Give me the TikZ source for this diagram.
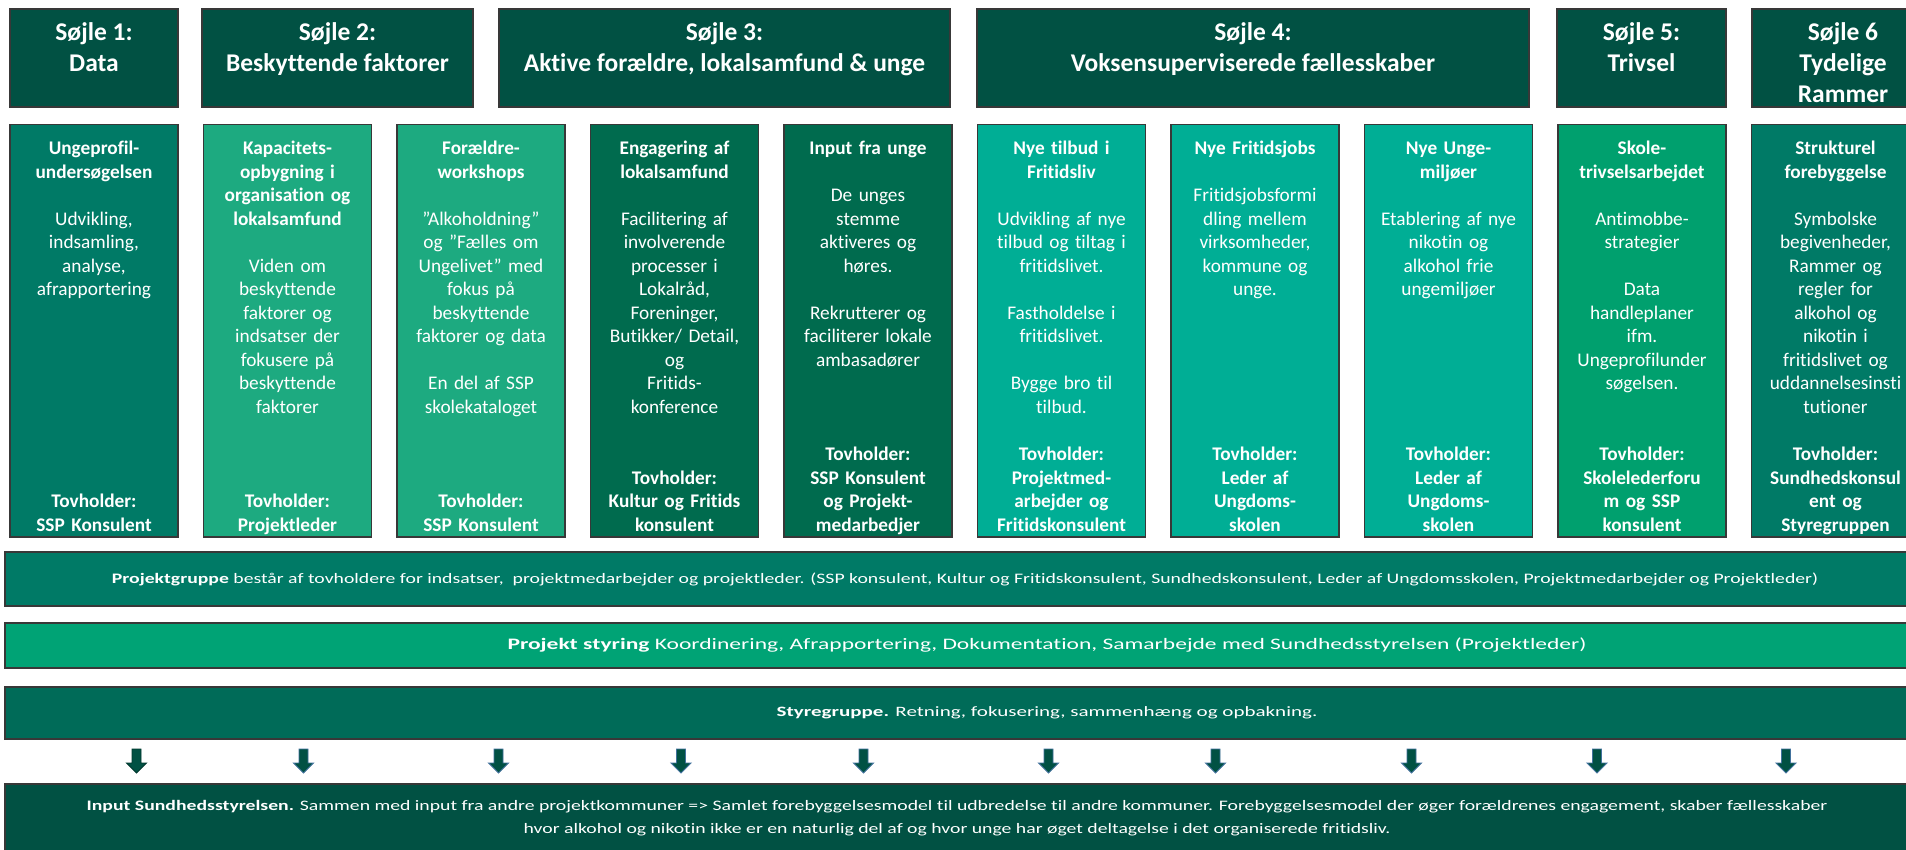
\documentclass[tikz,border=0pt]{standalone}
\usepackage{fontspec}
\setmainfont{Carlito}[Ligatures=CommonOff]
\newfontfamily\bandfont{Carlito}[FakeStretch=1.36, Ligatures=CommonOff]
\newfontfamily\widebandfont{Carlito}[FakeStretch=1.47, Ligatures=CommonOff]
\usetikzlibrary{positioning}

\definecolor{hdrgreen}{RGB}{1,81,67}
\definecolor{midgreen}{RGB}{0,122,102}
\definecolor{lightgreen}{RGB}{29,170,128}
\definecolor{darkgreen}{RGB}{0,107,78}
\definecolor{tealgreen}{RGB}{0,174,149}
\definecolor{schoolgreen}{RGB}{0,160,110}
\definecolor{bandgreen}{RGB}{0,163,117}
\definecolor{steergreen}{RGB}{0,107,88}
\definecolor{arrowline}{RGB}{65,113,156}

\begin{document}
\begin{tikzpicture}[x=1pt, y=-1pt,
boxframe/.style={draw=black!78, line width=1.3pt, inner sep=0pt, outer sep=0pt},
header/.style={boxframe, fill=hdrgreen, minimum height=98pt},
pillar/.style={boxframe, minimum width=168pt, minimum height=412.5pt},
band/.style={boxframe, minimum width=1920pt},
bandtext/.style={text=white, align=center, inner sep=0pt, font=\bandfont\fontsize{14.5}{22.5}\selectfont},
widebandtext/.style={bandtext, font=\widebandfont\fontsize{16}{20}\selectfont},
headtext/.style={text=white, font=\bfseries\fontsize{25.5}{31}\selectfont, align=center, inner sep=0pt},
pillartext/.style={text=white, font=\fontsize{19.3}{23.5}\selectfont, text width=166pt, align=center, inner sep=0pt},
tovtext/.style={pillartext, font=\bfseries\fontsize{19.3}{23.5}\selectfont},
blockarrow/.style={draw=arrowline, fill=hdrgreen, line width=0.9pt},
]
\fill[white] (0,0) rectangle (1906,850);
\useasboundingbox (0,0) rectangle (1906,850);
\clip (0,0) rectangle (1906,850);

\node[header, minimum width=168pt, anchor=north west] (h1) at (10,9) {};
\node[header, minimum width=271pt, right=24pt of h1] (h2) {};
\node[header, minimum width=451pt, right=26pt of h2] (h3) {};
\node[header, minimum width=552pt, right=27pt of h3] (h4) {};
\node[header, minimum width=169pt, right=28pt of h4] (h5) {};
\node[header, minimum width=182pt, right=26pt of h5] (h6) {};
\node[headtext, below=9.5pt of h1.north] (h1txt) {\strut Søjle 1:\\Data};
\node[headtext, below=9.5pt of h2.north] (h2txt) {\strut Søjle 2:\\Beskyttende faktorer};
\node[headtext, below=9.5pt of h3.north] (h3txt) {\strut Søjle 3:\\Aktive forældre, lokalsamfund \& unge};
\node[headtext, below=9.5pt of h4.north] (h4txt) {\strut Søjle 4:\\Voksensuperviserede fællesskaber};
\node[headtext, below=9.5pt of h5.north] (h5txt) {\strut Søjle 5:\\Trivsel};
\node[headtext, below=9.5pt of h6.north] (h6txt) {\strut Søjle 6\\Tydelige\\Rammer};

\node[pillar, fill=midgreen, anchor=north west] (c1) at (10,124.5) {};
\node[pillar, fill=lightgreen, right=25.5pt of c1] (c2) {};
\node[pillar, fill=lightgreen, right=25.5pt of c2] (c3) {};
\node[pillar, fill=darkgreen, right=25.5pt of c3] (c4) {};
\node[pillar, fill=darkgreen, right=25.5pt of c4] (c5) {};
\node[pillar, fill=tealgreen, right=25.5pt of c5] (c6) {};
\node[pillar, fill=tealgreen, right=25.5pt of c6] (c7) {};
\node[pillar, fill=tealgreen, right=25.5pt of c7] (c8) {};
\node[pillar, fill=schoolgreen, right=25.5pt of c8] (c9) {};
\node[pillar, fill=midgreen, right=25.5pt of c9] (c10) {};

\node[pillartext, below=13.5pt of c1.north] (c1txt) {\strut\textbf{Ungeprofil-\\undersøgelsen}\\[23.5pt]Udvikling,\\indsamling,\\analyse,\\afrapportering};
\node[pillartext, below=13.5pt of c2.north] (c2txt) {\strut\textbf{Kapacitets-\\opbygning i\\organisation og\\lokalsamfund}\\[23.5pt]Viden om\\beskyttende\\faktorer og\\indsatser der\\fokusere på\\beskyttende\\faktorer};
\node[pillartext, below=13.5pt of c3.north] (c3txt) {\strut\textbf{Forældre-\\workshops}\\[23.5pt]”Alkoholdning”\\og ”Fælles om\\Ungelivet” med\\fokus på\\beskyttende\\faktorer og data\\[23.5pt]En del af SSP\\skolekataloget};
\node[pillartext, below=13.5pt of c4.north] (c4txt) {\strut\textbf{Engagering af\\lokalsamfund}\\[23.5pt]Facilitering af\\involverende\\processer i\\Lokalråd,\\Foreninger,\\Butikker/ Detail,\\og\\Fritids-\\konference};
\node[pillartext, below=13.5pt of c5.north] (c5txt) {\strut\textbf{Input fra unge}\\[23.5pt]De unges\\stemme\\aktiveres og\\høres.\\[23.5pt]Rekrutterer og\\faciliterer lokale\\ambasadører};
\node[pillartext, below=13.5pt of c6.north] (c6txt) {\strut\textbf{Nye tilbud i\\Fritidsliv}\\[23.5pt]Udvikling af nye\\tilbud og tiltag i\\fritidslivet.\\[23.5pt]Fastholdelse i\\fritidslivet.\\[23.5pt]Bygge bro til\\tilbud.};
\node[pillartext, below=13.5pt of c7.north] (c7txt) {\strut\textbf{Nye Fritidsjobs}\\[23.5pt]Fritidsjobsformi\\dling mellem\\virksomheder,\\kommune og\\unge.};
\node[pillartext, below=13.5pt of c8.north] (c8txt) {\strut\textbf{Nye Unge-\\miljøer}\\[23.5pt]Etablering af nye\\nikotin og\\alkohol frie\\ungemiljøer};
\node[pillartext, below=13.5pt of c9.north] (c9txt) {\strut\textbf{Skole-\\trivselsarbejdet}\\[23.5pt]Antimobbe-\\strategier\\[23.5pt]Data\\handleplaner\\ifm.\\Ungeprofilunder\\søgelsen.};
\node[pillartext, below=13.5pt of c10.north] (c10txt) {\strut\textbf{Strukturel\\forebyggelse}\\[23.5pt]Symbolske\\begivenheder,\\Rammer og\\regler for\\alkohol og\\nikotin i\\fritidslivet og\\uddannelsesinsti\\tutioner};

\node[tovtext, above=-1.5pt of c1.south] (c1tov) {Tovholder:\\SSP Konsulent\strut};
\node[tovtext, above=-1.5pt of c2.south] (c2tov) {Tovholder:\\Projektleder\strut};
\node[tovtext, above=-1.5pt of c3.south] (c3tov) {Tovholder:\\SSP Konsulent\strut};
\node[tovtext, above=-1.5pt of c4.south] (c4tov) {Tovholder:\\Kultur og Fritids\\konsulent\strut};
\node[tovtext, above=-1.5pt of c5.south] (c5tov) {Tovholder:\\SSP Konsulent\\og Projekt-\\medarbedjer\strut};
\node[tovtext, above=-1.5pt of c6.south] (c6tov) {Tovholder:\\Projektmed-\\arbejder og\\Fritidskonsulent\strut};
\node[tovtext, above=-1.5pt of c7.south] (c7tov) {Tovholder:\\Leder af\\Ungdoms-\\skolen\strut};
\node[tovtext, above=-1.5pt of c8.south] (c8tov) {Tovholder:\\Leder af\\Ungdoms-\\skolen\strut};
\node[tovtext, above=-1.5pt of c9.south] (c9tov) {Tovholder:\\Skolelederforu\\m og SSP\\konsulent\strut};
\node[tovtext, above=-1.5pt of c10.south] (c10tov) {Tovholder:\\Sundhedskonsul\\ent og\\Styregruppen\strut};

\coordinate (mid) at (965,0);
\coordinate (midwide) at (1047,0);
\coordinate (midlow) at (957,0);
\node[band, fill=midgreen, anchor=north west, minimum height=54pt] (b1) at (5,552) {};
\node[band, fill=bandgreen, anchor=north west, minimum height=45pt] (b2) at (5,623) {};
\node[band, fill=steergreen, anchor=north west, minimum height=52pt] (b3) at (5,687) {};
\node[band, fill=hdrgreen, anchor=north west, minimum height=68pt] (b4) at (5,784) {};
\node[bandtext] (b1txt) at (b1.center -| mid) {\textbf{Projektgruppe} består af tovholdere for indsatser,\ \ projektmedarbejder og projektleder. (SSP konsulent, Kultur og Fritidskonsulent, Sundhedskonsulent, Leder af Ungdomsskolen, Projektmedarbejder og Projektleder)};
\node[widebandtext] (b2txt) at (b2.center -| midwide) {\textbf{Projekt styring} Koordinering, Afrapportering, Dokumentation, Samarbejde med Sundhedsstyrelsen (Projektleder)};
\node[widebandtext, font=\widebandfont\fontsize{14.3}{20}\selectfont] (b3txt) at (b3.center -| midwide) {\textbf{Styregruppe.} Retning, fokusering, sammenhæng og opbakning.};
\node[bandtext] (b4txt) at (b4.center -| midlow) {\textbf{Input Sundhedsstyrelsen.} Sammen med input fra andre projektkommuner => Samlet forebyggelsesmodel til udbredelse til andre kommuner. Forebyggelsesmodel der øger forældrenes engagement, skaber fællesskaber\\hvor alkohol og nikotin ikke er en naturlig del af og hvor unge har øget deltagelse i det organiserede fritidsliv.};

\draw[blockarrow, draw=hdrgreen!70!black] (136.5,749) -- ++(4.5,0) -- ++(0,14) -- ++(5.5,0) -- ++(-10,10) -- ++(-10,-10) -- ++(5.5,0) -- ++(0,-14) -- cycle;
\foreach \ax in {303.5,498.5,681,863.5,1048.5,1215.5,1411.5,1597,1786}
  \draw[blockarrow] (\ax,749) -- ++(4.5,0) -- ++(0,14) -- ++(5.5,0) -- ++(-10,10) -- ++(-10,-10) -- ++(5.5,0) -- ++(0,-14) -- cycle;
\end{tikzpicture}
\end{document}
